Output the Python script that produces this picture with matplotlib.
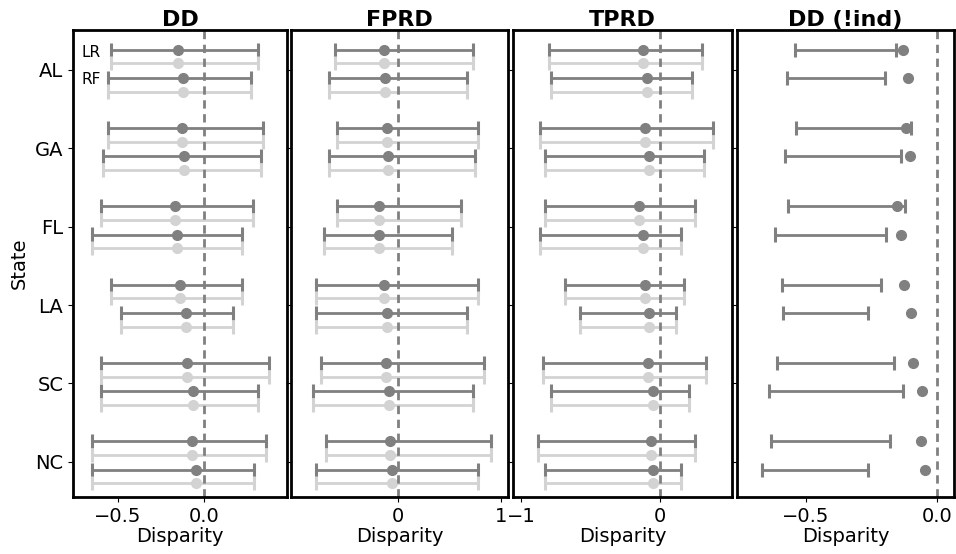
import matplotlib.pyplot as plt
import numpy as np

states = ['AL', 'GA', 'FL', 'LA', 'SC', 'NC']
titles = ['DD', 'FPRD', 'TPRD', 'DD (!ind)']

# point estimate, lower, upper per state for LR and RF
dd_lr = [-0.149, -0.128, -0.167, -0.14, -0.101, -0.068]
dd_lr_lo = [-0.54, -0.558, -0.60, -0.541, -0.60, -0.649]
dd_lr_hi = [0.314, 0.341, 0.281, 0.219, 0.376, 0.357]
dd_rf = [-0.12, -0.114, -0.155, -0.107, -0.062, -0.048]
dd_rf_lo = [-0.556, -0.589, -0.649, -0.479, -0.60, -0.649]
dd_rf_hi = [0.273, 0.33, 0.219, 0.167, 0.31, 0.287]

fprd_lr = [-0.134, -0.105, -0.18, -0.138, -0.121, -0.076]
fprd_lr_lo = [-0.617, -0.594, -0.59, -0.80, -0.746, -0.697]
fprd_lr_hi = [0.726, 0.782, 0.617, 0.782, 0.833, 0.905]
fprd_rf = [-0.124, -0.099, -0.186, -0.109, -0.089, -0.06]
fprd_rf_lo = [-0.672, -0.672, -0.72, -0.80, -0.827, -0.80]
fprd_rf_hi = [0.668, 0.752, 0.526, 0.668, 0.726, 0.775]

tprd_lr = [-0.125, -0.108, -0.149, -0.108, -0.084, -0.065]
tprd_lr_lo = [-0.803, -0.863, -0.827, -0.683, -0.844, -0.883]
tprd_lr_hi = [0.305, 0.384, 0.254, 0.173, 0.329, 0.252]
tprd_rf = [-0.096, -0.079, -0.12, -0.079, -0.048, -0.048]
tprd_rf_lo = [-0.787, -0.827, -0.863, -0.576, -0.787, -0.827]
tprd_rf_hi = [0.23, 0.319, 0.153, 0.115, 0.211, 0.153]

ddni_lr = [-0.129, -0.117, -0.151, -0.126, -0.093, -0.062]
ddni_lr_lo = [-0.542, -0.538, -0.567, -0.593, -0.611, -0.634]
ddni_lr_hi = [-0.157, -0.10, -0.123, -0.214, -0.165, -0.18]
ddni_rf = [-0.11, -0.104, -0.138, -0.098, -0.058, -0.047]
ddni_rf_lo = [-0.574, -0.58, -0.618, -0.586, -0.641, -0.668]
ddni_rf_hi = [-0.199, -0.138, -0.193, -0.263, -0.131, -0.264]

panels = [
    (dd_lr, dd_lr_lo, dd_lr_hi, dd_rf, dd_rf_lo, dd_rf_hi),
    (fprd_lr, fprd_lr_lo, fprd_lr_hi, fprd_rf, fprd_rf_lo, fprd_rf_hi),
    (tprd_lr, tprd_lr_lo, tprd_lr_hi, tprd_rf, tprd_rf_lo, tprd_rf_hi),
    (ddni_lr, ddni_lr_lo, ddni_lr_hi, ddni_rf, ddni_rf_lo, ddni_rf_hi),
]
xlims = [(-0.76, 0.48), (-1.04, 1.07), (-1.06, 0.52), (-0.763, 0.065)]
xticks = [[-0.5, 0.0], [0, 1], [-1, 0], [-0.5, 0.0]]
xticklabels = [['−0.5', '0.0'], ['0', '1'], ['−1', '0'], ['−0.5', '0.0']]
lefts = [73, 291, 513, 737]
rights = [287, 508, 732, 954]

dark = '#808080'
light = '#d3d3d3'

fig = plt.figure(figsize=(9.56, 5.54), dpi=100)
y = np.arange(len(states))

for i in range(4):
    ax = fig.add_axes([lefts[i] / 956, 1 - 497 / 554,
                       (rights[i] - lefts[i]) / 956, (497 - 30) / 554])
    lr, lr_lo, lr_hi, rf, rf_lo, rf_hi = [np.array(a) for a in panels[i]]

    def bar(yy, lo, hi, c):
        ax.hlines(yy, lo, hi, color=c, lw=2)
        ax.vlines(lo, yy - 0.09, yy + 0.09, color=c, lw=2.2)
        ax.vlines(hi, yy - 0.09, yy + 0.09, color=c, lw=2.2)

    bar(y - 0.26, lr_lo, lr_hi, dark)
    ax.plot(lr, y - 0.26, 'o', color=dark, ms=7)
    bar(y + 0.10, rf_lo, rf_hi, dark)
    ax.plot(rf, y + 0.10, 'o', color=dark, ms=7)
    if i < 3:
        bar(y - 0.085, lr_lo, lr_hi, light)
        ax.plot(lr, y - 0.085, 'o', color=light, ms=7)
        bar(y + 0.275, rf_lo, rf_hi, light)
        ax.plot(rf, y + 0.275, 'o', color=light, ms=7)

    ax.axvline(0, color=dark, ls='--', lw=2, dashes=(3, 2))
    ax.set_xlim(xlims[i])
    ax.set_ylim(5.45, -0.51)
    ax.set_xticks(xticks[i])
    ax.set_xticklabels(xticklabels[i], fontsize=14)
    ax.set_yticks(y)
    if i == 0:
        ax.set_yticklabels(states, fontsize=14)
        ax.set_ylabel('State', fontsize=14)
        ax.text(-0.71, -0.17, 'LR', fontsize=11)
        ax.text(-0.71, 0.18, 'RF', fontsize=11)
    else:
        ax.set_yticklabels([])
    ax.set_title(titles[i], fontsize=16, fontweight='bold', pad=3)
    ax.set_xlabel('Disparity', fontsize=14, labelpad=1)
    for s in ax.spines.values():
        s.set_linewidth(2)

fig.savefig('out.png', dpi=100)
